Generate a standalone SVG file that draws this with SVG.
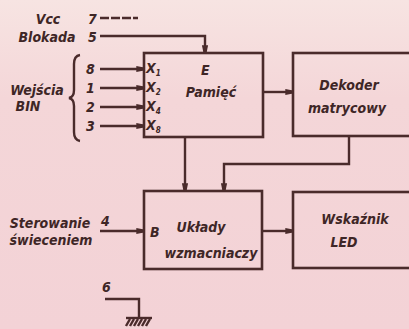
<svg xmlns="http://www.w3.org/2000/svg" width="409" height="329" viewBox="0 0 409 329">
<defs>
<linearGradient id="bg" x1="0" y1="0" x2="0" y2="1">
<stop offset="0" stop-color="#f7e4e2"/>
<stop offset="0.3" stop-color="#f4d6d8"/>
<stop offset="1" stop-color="#f3d2d6"/>
</linearGradient>
<marker id="ah" viewBox="0 0 10 10" refX="10" refY="5" markerWidth="3.2" markerHeight="3.2" orient="auto" markerUnits="strokeWidth">
<path d="M0,1 L10,3 L10,7 L0,9 Z" fill="#4a2b2b"/>
</marker>
<style>
.ln{fill:none;stroke:#4a2b2b;stroke-width:2.4}
.bx{fill:none;stroke:#4a2b2b;stroke-width:2.6}
.t{font-family:'DejaVu Sans',sans-serif;font-stretch:condensed;font-weight:bold;font-style:oblique;font-size:14px;fill:#3e2626}
.s{font-size:8px}
</style>
</defs>
<rect width="409" height="329" fill="url(#bg)"/>

<g id="pamiec">
<rect class="bx" x="144" y="53" width="119" height="84"/>
<text class="t" x="211" y="97" text-anchor="middle" font-size="15">Pamięć</text>
<text class="t" x="146" y="73">X<tspan class="s" dy="3">1</tspan></text>
<text class="t" x="146" y="92">X<tspan class="s" dy="3">2</tspan></text>
<text class="t" x="146" y="111">X<tspan class="s" dy="3">4</tspan></text>
<text class="t" x="146" y="130">X<tspan class="s" dy="3">8</tspan></text>
<text class="t" x="201" y="75">E</text>
</g>

<g id="dekoder">
<rect class="bx" x="293" y="53" width="125" height="83"/>
<text class="t" x="349" y="90" text-anchor="middle">Dekoder</text>
<text class="t" x="347" y="113" text-anchor="middle">matrycowy</text>
</g>

<g id="uklady">
<rect class="bx" x="144" y="191" width="118" height="78"/>
<text class="t" x="201" y="232" text-anchor="middle" font-size="15">Układy</text>
<text class="t" x="211" y="258" text-anchor="middle">wzmacniaczy</text>
<text class="t" x="150" y="237">B</text>
</g>

<g id="wskaznik">
<rect class="bx" x="293" y="192" width="125" height="76"/>
<text class="t" x="355" y="224" text-anchor="middle">Wskaźnik</text>
<text class="t" x="344" y="247" text-anchor="middle">LED</text>
</g>

<g id="labels">
<text class="t" x="48" y="24" text-anchor="middle">Vcc</text>
<text class="t" x="47" y="42" text-anchor="middle">Blokada</text>
<text class="t" x="88" y="24">7</text>
<text class="t" x="88" y="42">5</text>
<text class="t" x="37" y="95" text-anchor="middle">Wejścia</text>
<text class="t" x="28" y="111" text-anchor="middle">BIN</text>
<path class="ln" stroke-width="1.8" d="M80,55 Q74,56 74,64 L74,90 Q74,97 69,98 Q74,99 74,106 L74,132 Q74,140 80,141"/>
<text class="t" x="86" y="74">8</text>
<text class="t" x="86" y="93">1</text>
<text class="t" x="86" y="112">2</text>
<text class="t" x="86" y="131">3</text>
<text class="t" x="50" y="228" text-anchor="middle">Sterowanie</text>
<text class="t" x="51" y="245" text-anchor="middle">świeceniem</text>
<text class="t" x="101" y="226">4</text>
<text class="t" x="102" y="292">6</text>
</g>

<g id="connectors">
<path class="ln" stroke-width="1.6" stroke-dasharray="9 2" d="M100,18 L138,18"/>
<path class="ln" d="M100,36 L205,36 L205,53" marker-end="url(#ah)"/>
<path class="ln" d="M100,69 L144,69" marker-end="url(#ah)"/>
<path class="ln" d="M100,88 L144,88" marker-end="url(#ah)"/>
<path class="ln" d="M100,107 L144,107" marker-end="url(#ah)"/>
<path class="ln" d="M100,126 L144,126" marker-end="url(#ah)"/>
<path class="ln" d="M263,92 L293,92" marker-end="url(#ah)"/>
<path class="ln" d="M185,137 L185,191" marker-end="url(#ah)"/>
<path class="ln" d="M349,136 L349,164 L224,164 L224,191" marker-end="url(#ah)"/>
<path class="ln" d="M262,231 L293,231" marker-end="url(#ah)"/>
<path class="ln" d="M100,231 L144,231" marker-end="url(#ah)"/>
<path class="ln" d="M105,299 L139,299 L139,318"/>
<path class="ln" d="M126,318 L152,318"/>
<path class="ln" stroke-width="1.4" d="M130,319 L126,326 M134,319 L130,326 M138,319 L134,326 M142,319 L138,326 M146,319 L142,326 M150,319 L146,326"/>
</g>
</svg>
